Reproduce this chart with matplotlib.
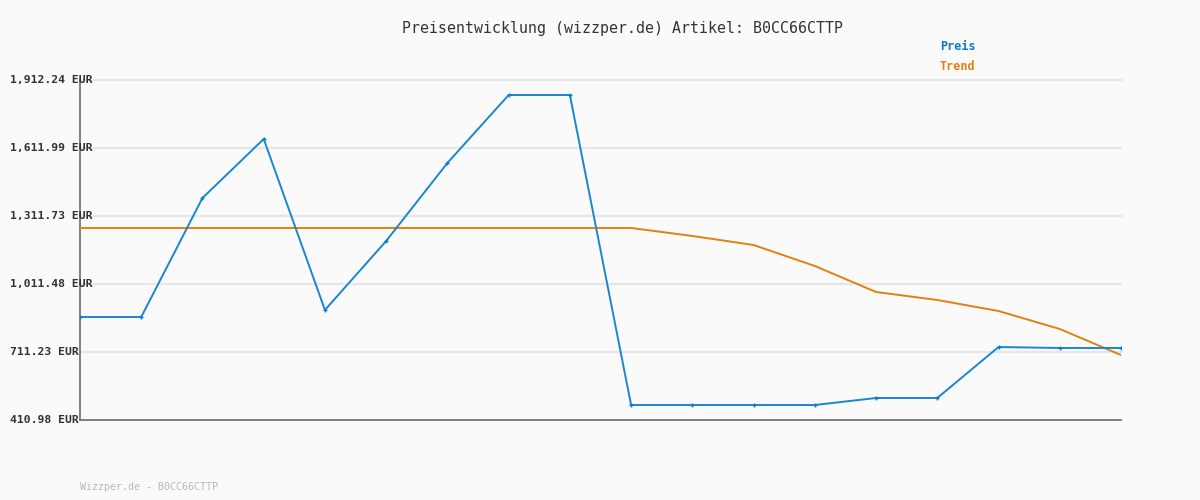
#!/usr/bin/env python3
"""Price history chart for one article, wizzper.de style."""

import matplotlib
matplotlib.use("Agg")
import matplotlib.pyplot as plt
import matplotlib.transforms as mtransforms

TITLE = "Preisentwicklung (wizzper.de) Artikel: B0CC66CTTP"
FOOTER = "Wizzper.de - B0CC66CTTP"

price = [865.8, 865.8, 1391.2, 1651.8, 896.7, 1201.4, 1545.8, 1846.0, 1846.0,
         477.2, 477.2, 477.2, 477.2, 508.1, 508.1, 733.3, 728.9, 728.9]
trend = [1258.8, 1258.8, 1258.8, 1258.8, 1258.8, 1258.8, 1258.8, 1258.8, 1258.8,
         1258.8, 1223.5, 1183.7, 1091.0, 976.2, 940.9, 892.3, 812.8, 698.0]
y_ticks = [410.98, 711.23, 1011.48, 1311.73, 1611.99, 1912.24]
y_tick_labels = ["410.98 EUR", "711.23 EUR", "1,011.48 EUR", "1,311.73 EUR",
                 "1,611.99 EUR", "1,912.24 EUR"]

BLUE = "#0a7bc8"
BLUE_LINE = "#1a86d0"
ORANGE = "#e0820f"
BG = "#fafafa"
MONO = ["DejaVu Sans Mono"]


def main():
    fig = plt.figure(figsize=(12, 5), dpi=100, facecolor=BG)
    ax = fig.add_axes([80 / 1200, 80 / 500, (1121 - 80) / 1200, 340 / 500])
    ax.set_facecolor(BG)

    xs = list(range(len(price)))
    for y in y_ticks[1:]:
        ax.axhline(y, color="#e6e6e6", linewidth=1.6, zorder=1, clip_on=False)

    ax.plot(xs, trend, color=ORANGE, linewidth=1.4, zorder=3)
    ax.plot(xs, price, color=BLUE_LINE, linewidth=1.4, marker="+",
            markersize=3.5, markeredgewidth=1.0, markeredgecolor=BLUE, zorder=4)

    ax.set_xlim(0, len(price) - 1)
    ax.set_ylim(y_ticks[0], y_ticks[-1])
    ax.set_xticks([])
    ax.set_yticks([])
    for side in ("top", "right"):
        ax.spines[side].set_visible(False)
    for side in ("left", "bottom"):
        ax.spines[side].set_color("#777777")
        ax.spines[side].set_linewidth(1.3)
        ax.spines[side].set_zorder(2)

    # y labels drawn left-aligned from the figure edge
    trans = mtransforms.blended_transform_factory(fig.transFigure, ax.transData)
    for y, lab in zip(y_ticks, y_tick_labels):
        ax.text(10 / 1200, y, lab, transform=trans, ha="left", va="center",
                family=MONO, fontsize=8.2, fontweight="bold", color="#333333",
                zorder=5, clip_on=False)

    fig.text(623 / 1200, 1 - 28 / 500, TITLE, ha="center", va="center",
             family=MONO, fontsize=10.7, color="#333333")
    fig.text(940 / 1200, 1 - 47 / 500, "Preis", ha="left", va="center",
             family=MONO, fontsize=8.5, fontweight="bold", color=BLUE)
    fig.text(940 / 1200, 1 - 67 / 500, "Trend", ha="left", va="center",
             family=MONO, fontsize=8.5, fontweight="bold", color=ORANGE)
    fig.text(80 / 1200, 1 - 487 / 500, FOOTER, ha="left", va="center",
             family=MONO, fontsize=7.2, color="#b8b8b8")

    fig.savefig("out.png", dpi=100, facecolor=BG)


if __name__ == "__main__":
    main()
